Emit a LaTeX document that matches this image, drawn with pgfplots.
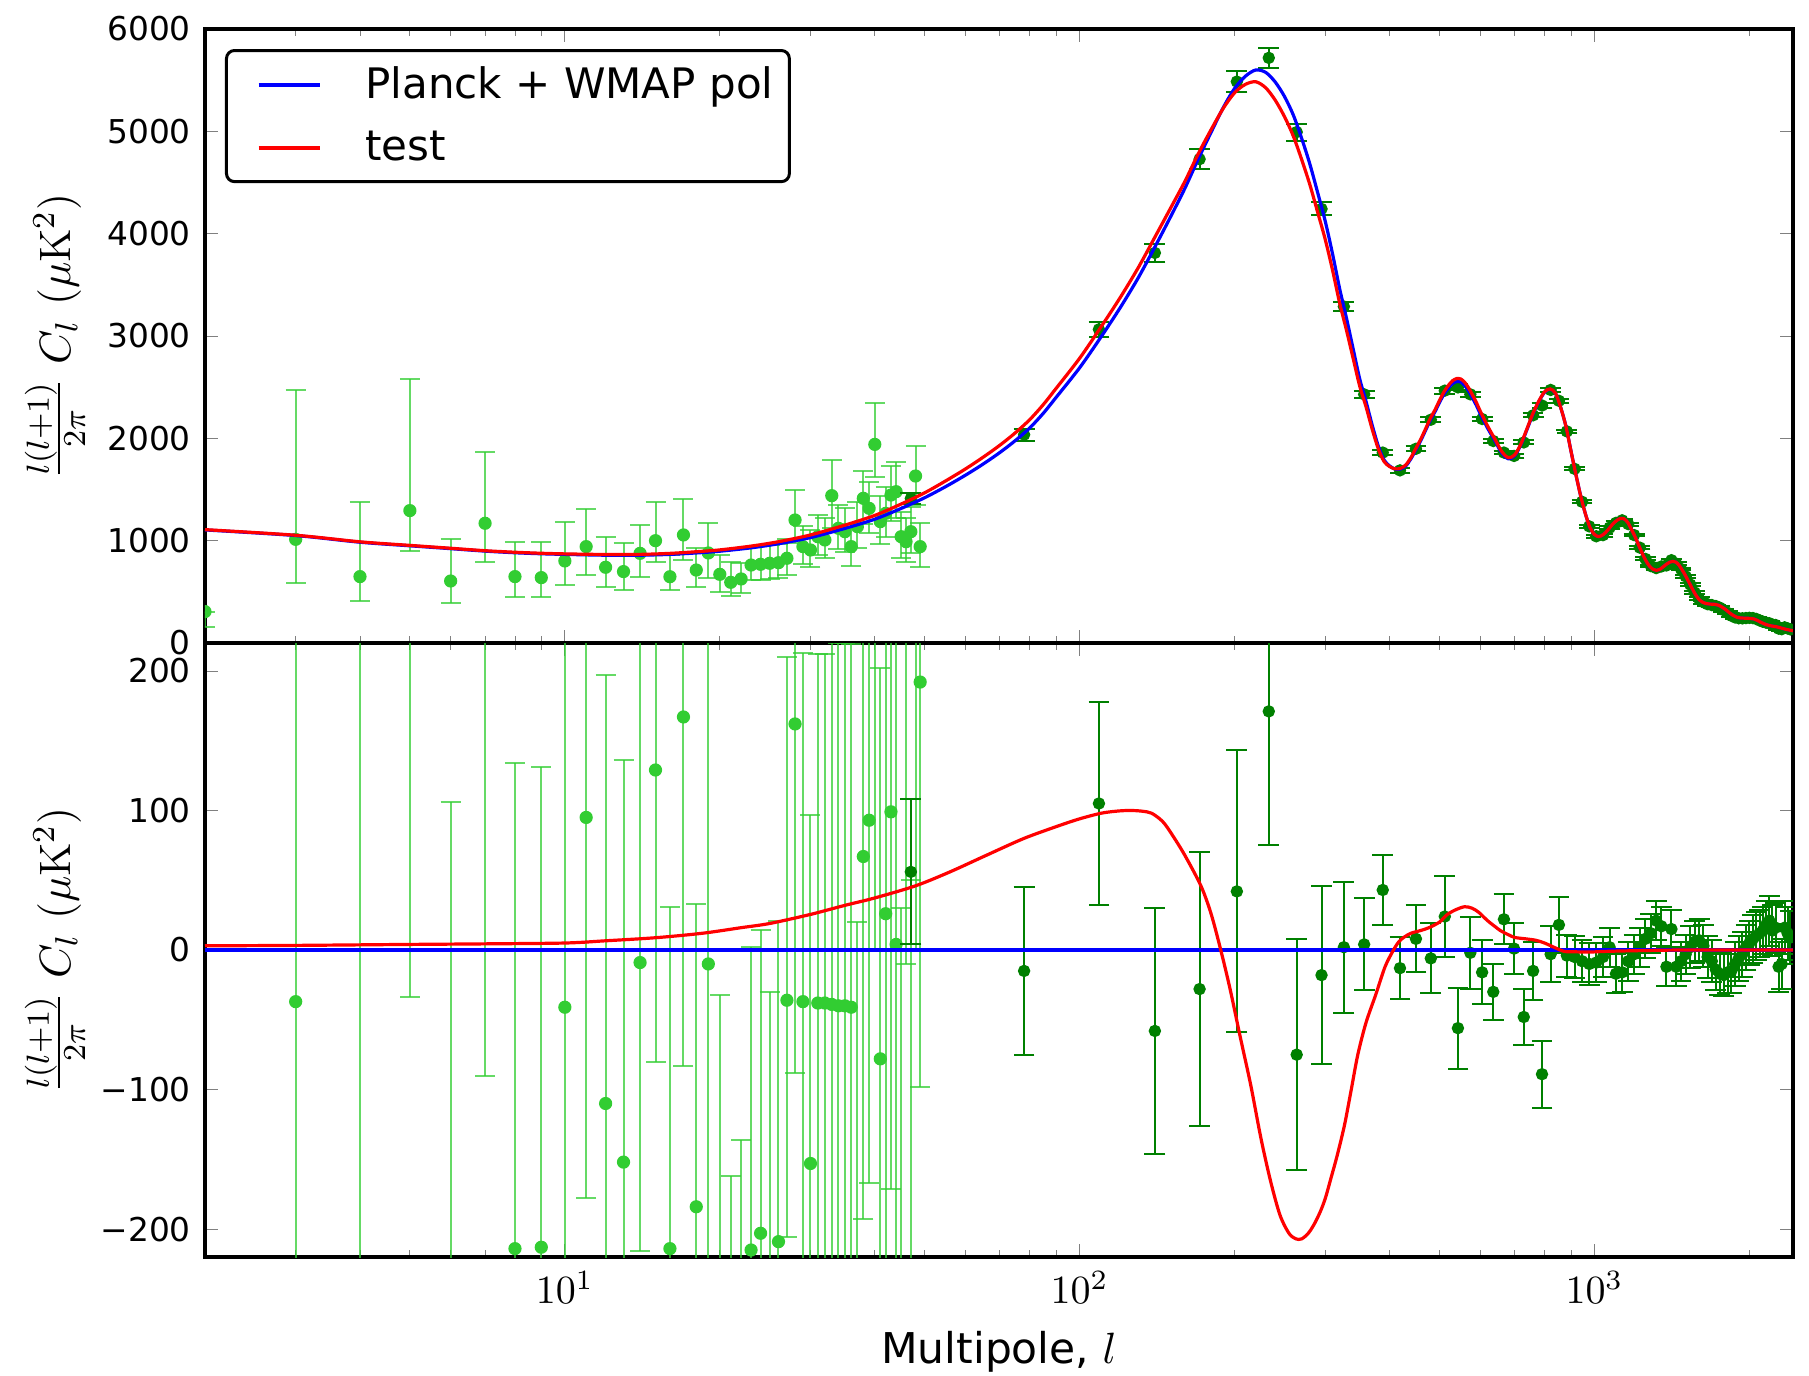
\documentclass[border=0pt]{standalone}
\usepackage{pgfplots}
\pgfplotsset{compat=1.18}
\usepackage{fontspec}
\newfontfamily\djv{DejaVu Sans}
\definecolor{lgreen}{RGB}{50,205,50}
\definecolor{dgreen}{RGB}{0,128,0}
\definecolor{pblue}{RGB}{0,0,255}
\definecolor{pred}{RGB}{255,0,0}

\pgfplotstableread{
l d
2 1105
3 1050
4 985
5 950
6 922
7 898
8 882
9 872
10 866
12 858
14 858
16 866
18 880
20 897
23 930
26 970
30 1030
35 1120
40 1210
45 1315
50 1420
55 1530
60 1640
65 1750
70 1862
75 1978
80 2102
85 2245
90 2400
100 2690
110 2990
120 3280
130 3570
140 3870
150 4160
160 4440
170 4730
180 4990
190 5230
200 5420
210 5540
220 5600
230 5575
240 5480
250 5340
260 5160
270 4930
280 4680
290 4400
300 4120
310 3800
320 3460
330 3170
340 2870
350 2580
360 2360
370 2130
380 1930
390 1790
400 1730
410 1700
420 1700
430 1730
440 1800
450 1890
460 1980
470 2080
480 2180
490 2260
500 2350
510 2430
520 2490
530 2535
540 2555
550 2550
560 2515
570 2460
580 2390
590 2320
600 2240
620 2100
640 1980
660 1860
680 1800
700 1830
720 1940
740 2090
760 2240
780 2360
800 2450
820 2480
840 2440
860 2300
880 2120
900 1880
920 1650
940 1440
960 1265
980 1130
1000 1060
1020 1040
1040 1060
1060 1100
1080 1150
1100 1190
1120 1215
1140 1215
1160 1180
1180 1110
1200 1035
1220 950
1240 870
1260 800
1280 750
1300 720
1320 710
1340 720
1360 745
1380 770
1400 790
1420 798
1440 790
1460 760
1480 715
1500 665
1520 610
1540 555
1560 500
1580 455
1600 420
1620 400
1650 385
1680 380
1710 378
1740 370
1770 350
1800 325
1830 295
1860 270
1890 252
1920 245
1950 243
1980 242
2010 240
2040 235
2070 222
2100 205
2150 182
2200 168
2250 160
2300 148
2350 135
2400 125
2430 120
}\bluecurve

\pgfplotstableread{
l d
2 1108
3 1053
4 989
5 954
6 926
7 902
8 887
9 877
10 871
12 865
14 866
16 876
18 892
20 910
23 947
26 990
30 1056
35 1152
40 1247
45 1358
50 1468
55 1586
60 1701
65 1817
70 1933
75 2054
80 2183
85 2330
90 2488
100 2783
110 3088
120 3379
130 3669
140 3966
150 4245
160 4508
170 4781
180 5016
190 5223
200 5377
210 5460
220 5484
230 5424
240 5302
250 5143
260 4954
270 4723
280 4479
290 4208
300 3942
310 3641
320 3320
330 3052
340 2777
350 2510
360 2308
370 2090
380 1903
390 1775
400 1724
410 1702
420 1707
430 1740
440 1812
450 1903
460 1994
470 2095
480 2196
490 2278
500 2370
510 2453
520 2516
530 2563
540 2584
550 2580
560 2546
570 2490
580 2420
590 2348
600 2266
620 2121
640 1997
660 1874
680 1811
700 1839
720 1948
740 2098
760 2247
780 2366
800 2455
820 2483
840 2441
860 2300
880 2119
900 1879
920 1649
940 1439
960 1264
980 1130
1000 1060
1020 1040
1040 1060
1060 1100
1080 1150
1100 1190
1120 1215
1140 1215
1160 1180
1180 1110
1200 1035
1220 950
1240 870
1260 800
1280 750
1300 720
1320 710
1340 720
1360 745
1380 770
1400 790
1420 798
1440 790
1460 760
1480 715
1500 665
1520 610
1540 555
1560 500
1580 455
1600 420
1620 400
1650 385
1680 380
1710 378
1740 370
1770 350
1800 325
1830 295
1860 270
1890 252
1920 245
1950 243
1980 242
2010 240
2040 235
2070 222
2100 205
2150 182
2200 168
2250 160
2300 148
2350 135
2400 125
2430 120
}\redcurve

\pgfplotstableread{
l r
2 3
3 3.3
5 4
7 4.4
10 5
12 6.6
15 8.8
18.5 12
22 16
25 19
30 25.5
35 32
40 37.3
48 46
56 56
66 68
78 80
91 89
100 94
110 98
118 99.5
125 100
132 99.5
138 98
145 92
151 83
160 68
172 46
180 26
188 0
196 -28
205 -62
215 -97
225 -135
235 -166
245 -190
255 -203
263 -207
270 -207
278 -203
285 -197
293 -188
300 -178
308 -163
315 -150
322 -136
328 -123
337 -100
347 -75
360 -52
376 -32
392 -12
407 0
417 6
426 9
440 12
460 14
477 16
500 20
516 25
535 28.5
559 31
578 30
596 27
620 21
640 17
656 14
680 11
700 9
735 8
769 7
800 5
834 2
874 -1
920 -1.3
975 -1.5
1050 -1
1200 -0.5
1500 0
2430 0
}\redresid

\pgfplotstableread{
l d em ep
2 307 153 0
3 1013 429 1460
4 649 235 729
5 1294 391 1289
6 606 211 407
7 1170 375 700
8 649 202 342
9 639 192 352
10 802 235 381
11 942 277 368
12 740 196 300
13 698 180 276
14 876 228 274
15 1000 205 375
16 648 130 212
17 1056 245 351
18 713 169 212
19 880 240 295
20 671 176 189
21 593 134 202
22 626 140 153
23 762 146 180
24 769 150 180
25 779 150 180
26 785 150 185
27 828 160 190
28 1202 228 293
29 942 170 200
30 909 170 200
31 1039 180 210
32 1007 180 210
33 1440 319 348
34 1121 200 230
35 1088 200 230
36 942 190 220
37 1137 210 240
38 1414 250 270
39 1316 240 260
40 1941 316 408
41 1186 220 250
42 1267 230 260
43 1446 250 280
44 1479 260 290
45 1039 210 240
46 990 200 230
47 1088 210 240
48 1632 280 293
49 942 200 230
}\lowtop

\pgfplotstableread{
l d em ep
2 -798 153 0
3 -37 429 1460
4 -335 235 729
5 343 377 1289
6 -319 211 425
7 271 361 700
8 -214 202 348
9 -213 192 344
10 -41 235 381
11 95 273 368
12 -110 196 307
13 -152 180 288
14 -9 207 274
15 129 209 375
16 -214 130 245
17 167 250 351
18 -184 169 217
19 -10 240 295
20 -230 136 198
21 -322 150 160
22 -300 150 164
23 -215 200 217
24 -203 200 217
25 -240 200 210
26 -209 200 230
27 -36 170 246
28 162 250 250
29 -37 230 250
30 -153 200 250
31 -38 230 250
32 -38 230 250
33 -39 240 260
34 -40 240 260
35 -40 240 260
36 -41 240 260
37 -260 250 280
38 67 260 280
39 93 260 280
40 300 300 360
41 -78 260 280
42 26 270 290
43 99 270 290
44 4 270 290
45 -260 270 290
46 260 270 290
47 -240 270 290
48 290 290 300
49 192 290 300
}\lowbot

\pgfplotstableread{
l d e
47 1413 52
78 2036 60
109 3065 73
140 3812 88
171 4728 98
202 5486 101
233 5718 96
264 4993 83
295 4242 64
326 3288 47
357 2430 33
388 1861 25
419 1687 22
450 1898 24
481 2182 25
512 2466 29
543 2498 29
574 2430 26
605 2189 23
636 1974 20
667 1861 18
698 1828 18
729 1960 20
760 2225 21
791 2321 24
822 2473 20
853 2367 20
884 2068 15
915 1702 15
946 1380 15
977 1140 15
1008 1043 14
1039 1054 14
1070 1127 14
1101 1174 14
1132 1199 14
1163 1162 14
1194 1055 14
1225 932 14
1256 822 14
1287 752 14
1318 732 14
1349 748 14
1380 758 14
1411 809 14
1442 775 14
1473 723 14
1504 651 14
1535 571 15
1566 493 15
1597 432 15
1628 399 15
1659 379 15
1690 371 15
1721 361 15
1752 345 15
1783 321 15
1814 295 15
1845 267 16
1876 250 16
1907 242 16
1938 241 16
1969 244 16
2000 246 16
2031 244 17
2062 235 17
2093 221 17
2124 208 17
2155 199 17
2186 193 18
2217 179 18
2248 176 18
2279 141 18
2310 135 18
2341 153 19
2372 143 19
2403 133 19
}\hightop

\pgfplotstableread{
l d e
47 56 52
78 -15 60
109 105 73
140 -58 88
171 -28 98
202 42 101
233 171 96
264 -75 83
295 -18 64
326 2 47
357 4 33
388 43 25
419 -13 22
450 8 24
481 -6 25
512 24 29
543 -56 29
574 -2 26
605 -16 23
636 -30 20
667 22 18
698 1 18
729 -48 20
760 -15 21
791 -89 24
822 -3 20
853 18 20
884 -4 15
915 -5 15
946 -8 15
977 -10 15
1008 -9 14
1039 -5 14
1070 2 14
1101 -17 14
1132 -16 14
1163 -8 14
1194 -3 14
1225 2 14
1256 8 14
1287 12 14
1318 21 14
1349 17 14
1380 -12 14
1411 15 14
1442 -12 14
1473 -8 14
1504 -3 14
1535 2 15
1566 6 15
1597 7 15
1628 3 15
1659 -5 15
1690 -8 15
1721 -14 15
1752 -17 15
1783 -18 15
1814 -16 15
1845 -15 16
1876 -10 16
1907 -6 16
1938 -3 16
1969 2 16
2000 5 16
2031 8 17
2062 10 17
2093 12 17
2124 14 17
2155 18 17
2186 21 18
2217 14 18
2248 16 18
2279 -12 18
2310 -10 18
2341 16 19
2372 12 19
2403 9 19
}\highbot

\begin{document}
\begin{tikzpicture}
\begin{axis}[
  scale only axis, width=397pt, height=153.5pt,
  xmode=log, xmin=2, xmax=2430,
  tick align=inside,
  major tick length=3.3pt, minor tick length=1.75pt,
  axis line style={line width=0.8pt},
  xtick={10,100,1000},
  minor xtick={2,3,4,5,6,7,8,9,20,30,40,50,60,70,80,90,200,300,400,500,600,700,800,900,2000},
  clip marker paths=true,
  yticklabel style={font=\djv\fontsize{8.2}{9}\selectfont},
  at={(0pt,153.5pt)}, anchor=south west,
  ymin=0, ymax=6000, ytick={0,1000,2000,3000,4000,5000,6000},
  yticklabels={0,1000,2000,3000,4000,5000,6000},
  xticklabels={,,},
  legend cell align=left,
  legend style={at={(axis description cs:0,1)}, anchor=north west, xshift=5pt, yshift=-5pt,
    draw=black, line width=0.75pt, rounded corners=2pt, fill=white,
    inner xsep=7.5pt, inner ysep=3.9pt, row sep=6.5pt, column sep=11pt,
    font=\djv\fontsize{10.5}{12}\selectfont,
    nodes={inner sep=0pt}, cells={anchor=west}},
  legend image code/.code={\draw[#1, line width=1pt] (0pt,0pt) -- (15.25pt,0pt);},
]
\addplot[only marks, mark=*, mark size=1.45pt, forget plot,
    mark options={draw=lgreen, fill=lgreen},
    error bars/y dir=both, error bars/y explicit,
    error bars/error bar style={lgreen, line width=0.5pt, opacity=0.75},
    error bars/error mark=-,
    error bars/error mark options={rotate=90, lgreen, mark size=2.5pt, line width=0.5pt, opacity=0.75}]
  table[x=l, y=d, y error minus=em, y error plus=ep] {\lowtop};
\addplot[only marks, mark=*, mark size=1.35pt, forget plot,
    mark options={draw=dgreen, fill=dgreen},
    error bars/y dir=both, error bars/y explicit,
    error bars/error bar style={dgreen, line width=0.5pt},
    error bars/error mark=-,
    error bars/error mark options={rotate=90, dgreen, mark size=2.6pt, line width=0.5pt}]
  table[x=l, y=d, y error=e] {\hightop};
\addplot[pblue, line width=0.8pt, smooth, tension=0.5] table[x=l, y=d] {\bluecurve};
\addlegendentry{\rule[-2.5pt]{0pt}{10pt}Planck + WMAP pol\kern-3.5pt\rule{0pt}{0pt}}
\addplot[pred, line width=0.8pt, smooth, tension=0.5] table[x=l, y=d] {\redcurve};
\addlegendentry{\rule[-2.5pt]{0pt}{10pt}test}
\end{axis}

\begin{axis}[
  scale only axis, width=397pt, height=153.5pt,
  xmode=log, xmin=2, xmax=2430,
  tick align=inside,
  major tick length=3.3pt, minor tick length=1.75pt,
  axis line style={line width=0.8pt},
  xtick={10,100,1000},
  minor xtick={2,3,4,5,6,7,8,9,20,30,40,50,60,70,80,90,200,300,400,500,600,700,800,900,2000},
  clip marker paths=true,
  yticklabel style={font=\djv\fontsize{8.2}{9}\selectfont},
  xticklabel style={font=\fontsize{10}{12}\selectfont},
  at={(0pt,0pt)}, anchor=south west,
  ymin=-220, ymax=220, ytick={-200,-100,0,100,200},
  yticklabels={−200,−100,0,100,200},
  xticklabels={$10^{1}$,$10^{2}$,$10^{3}$},
]
\addplot[only marks, mark=*, mark size=1.45pt,
    mark options={draw=lgreen, fill=lgreen},
    error bars/y dir=both, error bars/y explicit,
    error bars/error bar style={lgreen, line width=0.5pt, opacity=0.75},
    error bars/error mark=-,
    error bars/error mark options={rotate=90, lgreen, mark size=2.5pt, line width=0.5pt, opacity=0.75}]
  table[x=l, y=d, y error minus=em, y error plus=ep] {\lowbot};
\addplot[only marks, mark=*, mark size=1.35pt,
    mark options={draw=dgreen, fill=dgreen},
    error bars/y dir=both, error bars/y explicit,
    error bars/error bar style={dgreen, line width=0.5pt},
    error bars/error mark=-,
    error bars/error mark options={rotate=90, dgreen, mark size=2.6pt, line width=0.5pt}]
  table[x=l, y=d, y error=e] {\highbot};
\addplot[pblue, line width=0.8pt] coordinates {(2,0) (2430,0)};
\addplot[pred, line width=0.8pt, smooth, tension=0.5] table[x=l, y=r] {\redresid};
\end{axis}

\node[rotate=90, anchor=center, font=\fontsize{11}{13}\selectfont] at (-37.5pt,230.25pt) {$\frac{l(l+1)}{2\pi}\ C_l\ (\mu\mathrm{K}^2)$};
\node[rotate=90, anchor=center, font=\fontsize{11}{13}\selectfont] at (-37.5pt,76.75pt) {$\frac{l(l+1)}{2\pi}\ C_l\ (\mu\mathrm{K}^2)$};
\node[anchor=base, font=\djv\fontsize{10.6}{12}\selectfont] at (198.5pt,-26.5pt) {Multipole, $l$};

\pgfresetboundingbox
\path[use as bounding box] (-51.25pt,-29.5pt) rectangle (401pt,314.25pt);
\end{tikzpicture}
\end{document}
